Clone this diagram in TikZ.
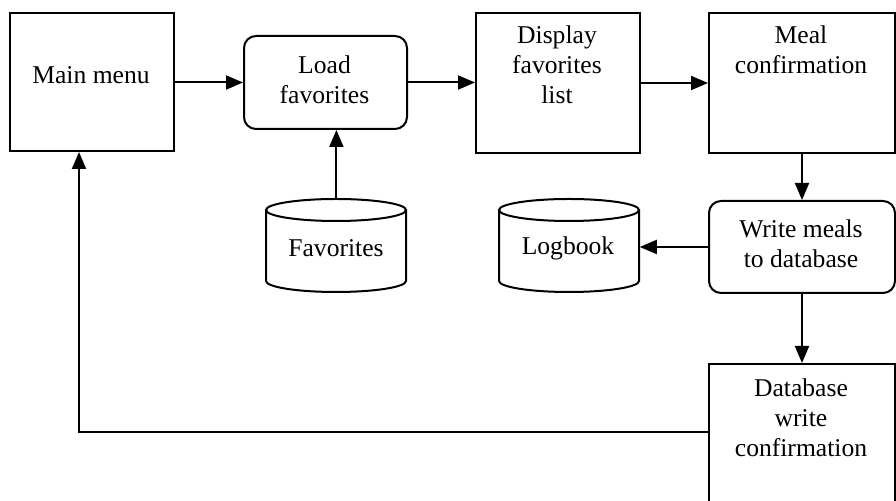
\documentclass[tikz,border=0pt]{standalone}
\usepackage{fontspec}
\setmainfont{Liberation Serif}
\usetikzlibrary{arrows.meta}
\begin{document}
\begin{tikzpicture}[x=0.5pt,y=-0.5pt,
  box/.style={draw, line width=1pt, anchor=north west, inner sep=0pt},
  rbox/.style={box, rounded corners=6pt},
  dbarea/.style={anchor=north west, inner sep=0pt, minimum width=70pt, minimum height=46.5pt},
  cyl/.style={line width=1pt},
  arr/.style={line width=1pt, -{Triangle[length=8.5pt,width=7pt]}},
  txt/.style={align=center, inner sep=0pt, font=\fontsize{12.8pt}{15pt}\selectfont}]
\useasboundingbox (0,0) rectangle (896,501);
\clip (0,0) rectangle (896,501);
% boxes
\node[box, minimum width=82pt, minimum height=69pt] (main) at (9,12) {};
\node[rbox, minimum width=81.5pt, minimum height=46.5pt] (load) at (243,35) {};
\node[box, minimum width=82pt, minimum height=70pt] (disp) at (475,12) {};
\node[box, minimum width=93pt, minimum height=70pt] (meal) at (708,12) {};
\node[rbox, minimum width=93pt, minimum height=46pt] (write) at (708,200) {};
\node[box, minimum width=93pt, minimum height=90pt] (db) at (708,363) {};
% cylinders
\node[dbarea] (fav) at (266,199) {};
\node[dbarea] (log) at (499,199) {};
\draw[cyl] (336,210) ellipse [x radius=70, y radius=11];
\draw[cyl] (266,210) -- (266,281) arc[start angle=180, end angle=0, x radius=70, y radius=11] -- (406,210);
\draw[cyl] (569,210) ellipse [x radius=70, y radius=11];
\draw[cyl] (499,210) -- (499,281) arc[start angle=180, end angle=0, x radius=70, y radius=11] -- (639,210);
% texts
\node[txt] (main-t) at (91,75) {Main menu};
\node[txt] (load-t) at (324.5,80) {Load\\favorites};
\node[txt] (disp-t) at (557,65) {Display\\favorites\\list};
\node[txt] (meal-t) at (801,50) {Meal\\confirmation};
\node[txt] (write-t) at (801,244) {Write meals\\to database};
\node[txt] (db-t) at (801,418) {Database\\write\\confirmation};
\node[txt] (fav-t) at (336,248) {Favorites};
\node[txt] (log-t) at (568,248) {Logbook};
% connectors
\draw[arr] (main.east |- load.west) -- (load.west);
\draw[arr] (load.east) -- (disp.west |- load.east);
\draw[arr] (disp.east) -- (meal.west);
\draw[arr] (meal.south) -- (meal.south |- write.north);
\draw[arr] (write.west) -- (log.east |- write.west);
\draw[arr] (write.south) -- (write.south |- db.north);
\draw[arr] (fav.north) -- (fav.north |- load.south);
\coordinate (c1) at (79,432);
\draw[arr] (db.west |- c1) -- (c1) -- (c1 |- main.south);
\end{tikzpicture}
\end{document}
